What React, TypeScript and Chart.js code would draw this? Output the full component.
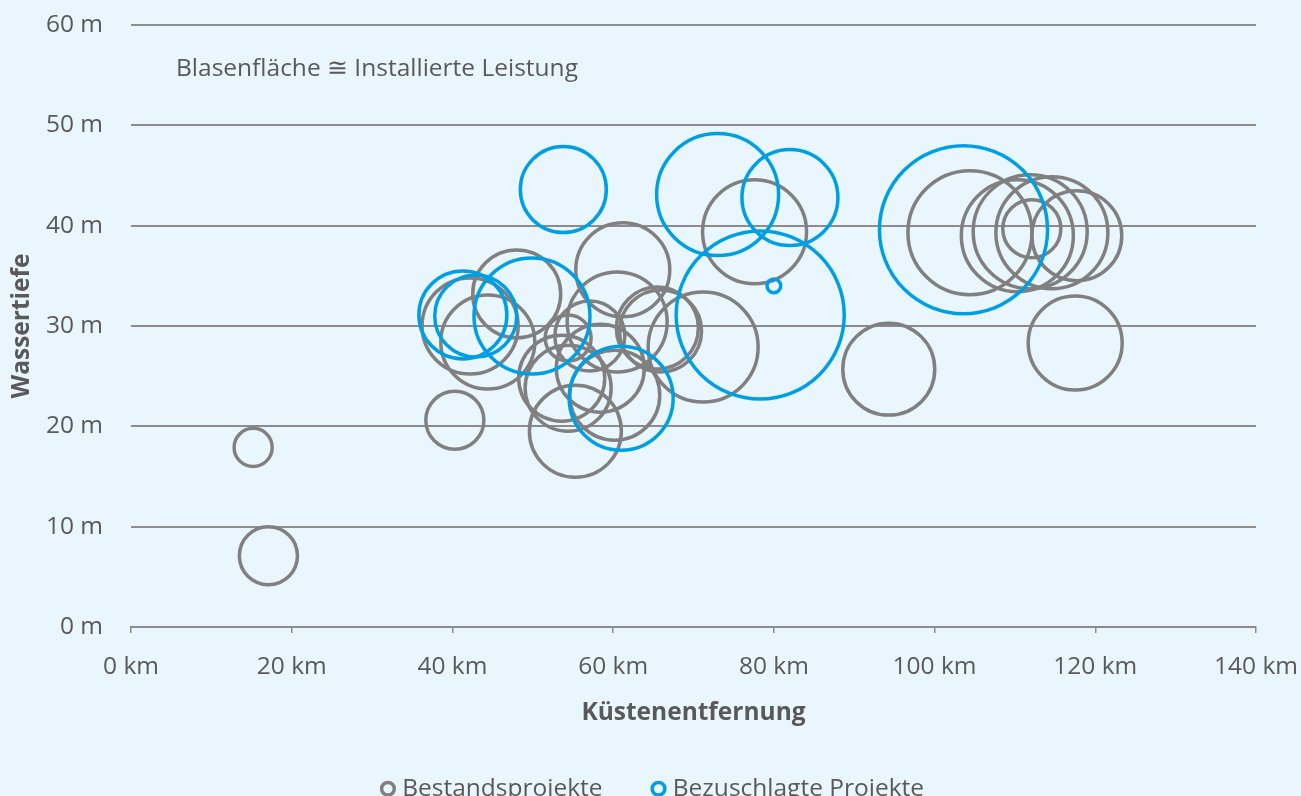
import React, { useEffect, useRef } from "react";
import { Chart, registerables } from "chart.js";

Chart.register(...registerables);

// Bestandsprojekte: Küstenentfernung (km), Wassertiefe (m), installierte Leistung (MW)
const bestandKm = [15.2, 17.1, 40.3, 42.2, 44.4, 48.0, 54.4, 53.6, 54.4, 55.3, 58.4, 60.2, 57.1, 60.5, 61.2, 65.5, 65.9, 71.2, 77.6, 94.3, 104.4, 110.3, 111.9, 114.6, 117.7, 112.1, 117.5];
const bestandDepth = [17.9, 7.1, 20.6, 30.0, 28.4, 33.2, 28.8, 24.8, 23.8, 19.5, 25.8, 23.1, 29.0, 30.4, 35.6, 29.8, 29.5, 27.9, 39.4, 25.7, 39.3, 39.0, 39.4, 39.3, 39.0, 39.7, 28.3];
const bestandMW = [77, 179, 179, 490, 469, 411, 112, 393, 393, 449, 411, 430, 260, 531, 469, 357, 357, 642, 574, 449, 816, 666, 690, 666, 430, 179, 469];

// Bezuschlagte Projekte
const zuschlagKm = [41.3, 42.9, 49.9, 53.8, 61.0, 73.0, 82.0, 80.0, 78.3, 103.6];
const zuschlagDepth = [31.1, 31.0, 31.0, 43.6, 22.8, 43.1, 42.8, 34.0, 31.1, 39.6];
const zuschlagMW = [411, 357, 714, 393, 574, 790, 489, 10, 1500, 1500];

const seriesLabels = ["Bestandsprojekte", "Bezuschlagte Projekte"];
const xTicksUnit = " km";
const yTicksUnit = " m";
const xTitle = "Küstenentfernung";
const yTitle = "Wassertiefe";
const noteText = "Blasenfläche ≅ Installierte Leistung";

const BUBBLE_SCALE = 2.17; // px per sqrt(MW), bubble area ~ capacity
const GREY = "#808080";
const BLUE = "#009FE3";
const TEXT = "#595959";
const GRID = "#8C8C8C";
const BG = "#EAF6FD";
const FONT = "'Open Sans', 'Noto Sans', sans-serif";
const FS = 24.5;
const LEGEND_PAD = 54;

const toPoints = (xs: number[], ys: number[], mw: number[]) =>
  xs.map((x, i) => ({ x, y: ys[i], r: Math.sqrt(mw[i]) * BUBBLE_SCALE }));

const notePlugin = {
  id: "notePlugin",
  afterLayout(chart: any) {
    // compensate Chart.js' trailing legend padding so the items sit centred
    if (chart.legend) {
      chart.legend.left = 0;
      chart.legend.right = chart.chartArea.right + LEGEND_PAD;
    }
  },
  beforeDatasetsDraw(chart: any) {
    const { ctx, chartArea } = chart;
    ctx.save();
    ctx.font = `${FS}px ${FONT}`;
    ctx.fillStyle = TEXT;
    ctx.textAlign = "left";
    ctx.textBaseline = "middle";
    ctx.fillText(noteText, chartArea.left + 45, chartArea.top + 44);
    ctx.restore();
  },
};

export default function App() {
  const canvasRef = useRef<HTMLCanvasElement | null>(null);

  useEffect(() => {
    if (!canvasRef.current) return;
    const chart = new Chart(canvasRef.current, {
      type: "bubble",
      data: {
        datasets: [
          {
            label: seriesLabels[0],
            data: toPoints(bestandKm, bestandDepth, bestandMW),
            backgroundColor: "rgba(0,0,0,0)",
            borderColor: GREY,
            borderWidth: 3.5,
            order: 1,
          },
          {
            label: seriesLabels[1],
            data: toPoints(zuschlagKm, zuschlagDepth, zuschlagMW),
            backgroundColor: "rgba(0,0,0,0)",
            borderColor: BLUE,
            borderWidth: 3.5,
            order: 0,
          },
        ],
      },
      options: {
        animation: false,
        responsive: false,
        devicePixelRatio: 1,
        events: [],
        layout: { autoPadding: false, padding: { top: 25, right: 45, left: 0, bottom: 0 } },
        scales: {
          x: {
            type: "linear",
            min: 0,
            max: 140,
            afterFit: (scale: any) => {
              scale.height = 95.5;
              scale.paddingLeft = 0;
              scale.paddingRight = 0;
            },
            ticks: {
              stepSize: 20,
              padding: 19,
              color: TEXT,
              font: { family: FONT, size: FS },
              callback: (v: any) => v + xTicksUnit,
              maxRotation: 0,
            },
            grid: {
              drawOnChartArea: false,
              drawTicks: true,
              tickLength: 6,
              color: GRID,
              lineWidth: 1.5,
            },
            border: { display: true, color: GRID, width: 2 },
            title: {
              display: true,
              text: xTitle,
              color: TEXT,
              font: { family: FONT, size: FS, weight: "bold", lineHeight: 0.8 },
              padding: { top: 0, bottom: 0 },
            },
          },
          y: {
            type: "linear",
            min: 0,
            max: 60,
            afterFit: (scale: any) => {
              scale.width = 131;
              scale.paddingTop = 0;
              scale.paddingBottom = 0;
            },
            ticks: {
              stepSize: 10,
              padding: 28,
              color: TEXT,
              font: { family: FONT, size: FS },
              callback: (v: any) => v + yTicksUnit,
            },
            grid: {
              drawTicks: false,
              color: GRID,
              lineWidth: 2,
            },
            border: { display: false },
            title: {
              display: true,
              text: yTitle,
              color: TEXT,
              font: { family: FONT, size: FS, weight: "bold" },
              padding: { top: 7, bottom: 0 },
            },
          },
        },
        plugins: {
          legend: {
            display: true,
            position: "bottom",
            labels: {
              usePointStyle: true,
              pointStyle: "circle",
              boxWidth: 4,
              boxHeight: 9,
              padding: LEGEND_PAD,
              color: TEXT,
              font: { family: FONT, size: FS },
              sort: (a: any, b: any) => a.datasetIndex - b.datasetIndex,
            },
          },
          tooltip: { enabled: false },
        },
      },
      plugins: [notePlugin],
    } as any);
    return () => chart.destroy();
  }, []);

  return (
    <div
      style={{
        position: "fixed",
        left: 0,
        top: 0,
        width: 1301,
        height: 796,
        overflow: "hidden",
        background: BG,
      }}
    >
      <canvas ref={canvasRef} width={1301} height={811} style={{ display: "block" }} />
    </div>
  );
}
